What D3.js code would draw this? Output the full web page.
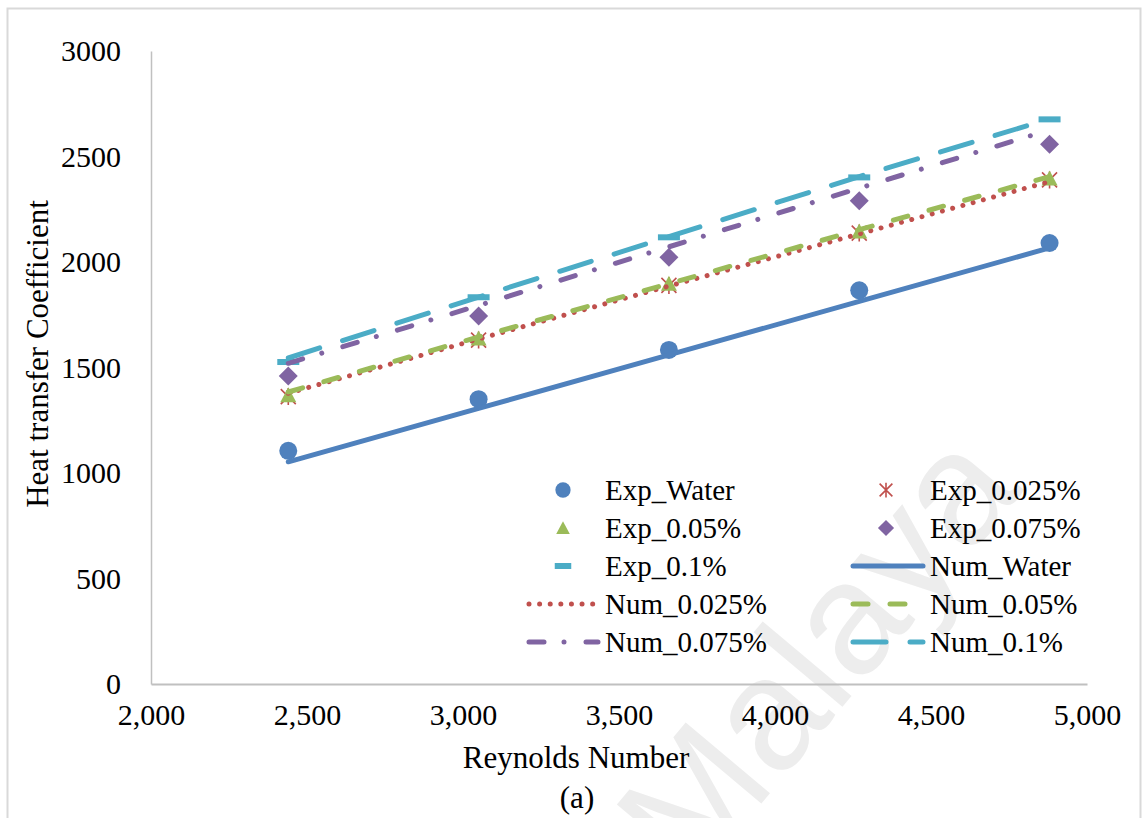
<!DOCTYPE html>
<html>
<head>
<meta charset="utf-8">
<script src="https://cdn.jsdelivr.net/npm/d3@7"></script>
<style>
  body { margin: 0; background: #ffffff; }
  svg { display: block; }
</style>
</head>
<body>
<svg id="chart" width="1146" height="818"></svg>
<script>
// Reynolds numbers at which heat transfer coefficient was measured / simulated
const reynolds = [2440, 3050, 3660, 4270, 4880];

// Experimental heat transfer coefficients (W/m²K)
const expWater = [1105, 1350, 1583, 1866, 2090];
const exp025 = [1362, 1630, 1889, 2137, 2389];
const exp05 = [1368, 1638, 1897, 2144, 2396];
const exp075 = [1460, 1744, 2022, 2290, 2558];
const exp1 = [1526, 1833, 2117, 2401, 2676];

// Numerical heat transfer coefficients (W/m²K)
const numWater = [1053, 1306, 1560, 1813, 2067];
const num025 = [1378, 1635, 1886, 2133, 2381];
const num05 = [1384, 1645, 1897, 2153, 2405];
const num075 = [1520, 1794, 2072, 2350, 2626];
const num1 = [1545, 1834, 2120, 2405, 2678];

const xTicks = [2000, 2500, 3000, 3500, 4000, 4500, 5000];
const yTicks = [0, 500, 1000, 1500, 2000, 2500, 3000];

const seriesNames = ["Exp_Water", "Exp_0.025%", "Exp_0.05%", "Exp_0.075%", "Exp_0.1%",
                     "Num_Water", "Num_0.025%", "Num_0.05%", "Num_0.075%", "Num_0.1%"];

const BLUE = "#4F81BD", RED = "#C0504D", GREEN = "#9BBB59", PURPLE = "#8064A2", CYAN = "#4BACC6";
const SERIF = "'Liberation Serif', 'Times New Roman', serif";

const svg = d3.select("#chart");

// outer frame
svg.append("rect")
  .attr("x", 7.5).attr("y", 8.5).attr("width", 1133).attr("height", 830)
  .attr("fill", "#ffffff").attr("stroke", "#d9d9d9").attr("stroke-width", 2);

// faint diagonal watermark behind the plot
svg.append("text")
  .attr("transform", "translate(816,652) rotate(-50)")
  .attr("text-anchor", "middle")
  .attr("dominant-baseline", "central")
  .attr("font-family", "'Liberation Sans', Arial, sans-serif")
  .attr("font-size", 160)
  .attr("fill", "#ededed")
  .text("Malaya");

const x = d3.scaleLinear().domain([2000, 5000]).range([151, 1087]);
const y = d3.scaleLinear().domain([0, 3000]).range([684, 51]);

// axes
const yAxis = svg.append("g").attr("transform", "translate(151,0)")
  .call(d3.axisLeft(y).tickValues(yTicks).tickSize(0).tickPadding(30).tickFormat(d3.format("d")));
yAxis.select(".domain").attr("stroke", "#c0c0c0").attr("stroke-width", 1.5);
yAxis.selectAll("text").attr("font-family", SERIF).attr("font-size", 30).attr("fill", "#000");

const xAxis = svg.append("g").attr("transform", "translate(0,684)")
  .call(d3.axisBottom(x).tickValues(xTicks).tickSize(0).tickPadding(20).tickFormat(d3.format(",")));
xAxis.select(".domain").attr("stroke", "#c0c0c0").attr("stroke-width", 2);
xAxis.selectAll("text").attr("font-family", SERIF).attr("font-size", 30).attr("fill", "#000");

// axis titles
svg.append("text")
  .attr("transform", "translate(37,354) rotate(-90)")
  .attr("text-anchor", "middle").attr("dominant-baseline", "central")
  .attr("font-family", SERIF).attr("font-size", 31).attr("fill", "#000")
  .text("Heat transfer Coefficient");
svg.append("text")
  .attr("x", 576).attr("y", 757)
  .attr("text-anchor", "middle").attr("dominant-baseline", "central")
  .attr("font-family", SERIF).attr("font-size", 31).attr("fill", "#000")
  .text("Reynolds Number");
svg.append("text")
  .attr("x", 577).attr("y", 797)
  .attr("text-anchor", "middle").attr("dominant-baseline", "central")
  .attr("font-family", SERIF).attr("font-size", 31).attr("fill", "#000")
  .text("(a)");

// marker shapes
function drawMarker(g, kind, color, scale) {
  const s = scale || 1;
  if (kind === "circle") {
    g.append("circle").attr("r", 9 * s).attr("fill", color);
  } else if (kind === "triangle") {
    g.append("path").attr("d", `M0,${-8 * s}L${8 * s},${7 * s}L${-8 * s},${7 * s}Z`).attr("fill", color);
  } else if (kind === "diamond") {
    g.append("path").attr("d", `M0,${-9.5 * s}L${9.5 * s},0L0,${9.5 * s}L${-9.5 * s},0Z`).attr("fill", color);
  } else if (kind === "dash") {
    g.append("rect").attr("x", -11 * s).attr("y", -3).attr("width", 22 * s).attr("height", 6).attr("fill", color);
  } else if (kind === "star") {
    const a = 7.5 * s;
    g.append("path")
      .attr("d", `M${-a},${-a}L${a},${a}M${a},${-a}L${-a},${a}M0,${-a - 1}L0,${a + 1}`)
      .attr("stroke", color).attr("stroke-width", 1.6).attr("fill", "none");
  }
}

const expSeries = [
  { name: seriesNames[0], values: expWater, kind: "circle", color: BLUE },
  { name: seriesNames[1], values: exp025, kind: "star", color: RED },
  { name: seriesNames[2], values: exp05, kind: "triangle", color: GREEN },
  { name: seriesNames[3], values: exp075, kind: "diamond", color: PURPLE },
  { name: seriesNames[4], values: exp1, kind: "dash", color: CYAN }
];

const numSeries = [
  { name: seriesNames[5], values: numWater, color: BLUE, dash: null },
  { name: seriesNames[6], values: num025, color: RED, dash: "0.01 10.6" },
  { name: seriesNames[7], values: num05, color: GREEN, dash: "15 22" },
  { name: seriesNames[8], values: num075, color: PURPLE, dash: "15 20 0.01 22" },
  { name: seriesNames[9], values: num1, color: CYAN, dash: "33 24" }
];

const plot = svg.append("g");

// experimental markers
expSeries.forEach(s => {
  plot.append("g").selectAll("g")
    .data(s.values.map((v, i) => [reynolds[i], v]))
    .join("g")
    .attr("transform", d => `translate(${x(d[0])},${y(d[1])})`)
    .each(function () { drawMarker(d3.select(this), s.kind, s.color, 1); });
});

// numerical lines
const line = d3.line().x(d => x(d[0])).y(d => y(d[1]));
numSeries.forEach(s => {
  plot.append("path")
    .datum(s.values.map((v, i) => [reynolds[i], v]))
    .attr("d", line)
    .attr("fill", "none")
    .attr("stroke", s.color)
    .attr("stroke-width", 5)
    .attr("stroke-linecap", "round")
    .attr("stroke-linejoin", "round")
    .attr("stroke-dasharray", s.dash);
});

// legend: two columns, row-major order
const legendRows = [490, 528, 566, 604, 642];
const legendCols = [
  { marker: 563, lineStart: 529, lineEnd: 598, text: 605 },
  { marker: 886, lineStart: 853, lineEnd: 923, text: 930 }
];
const legendItems = [...expSeries.map(s => ({ ...s, type: "exp" })), ...numSeries.map(s => ({ ...s, type: "num" }))];
const legend = svg.append("g");
legendItems.forEach((item, i) => {
  const col = legendCols[i % 2];
  const rowY = legendRows[Math.floor(i / 2)];
  const g = legend.append("g");
  if (item.type === "exp") {
    const m = g.append("g").attr("transform", `translate(${col.marker},${rowY})`);
    drawMarker(m, item.kind, item.color, item.kind === "dash" ? 0.75 : 0.85);
  } else {
    g.append("line")
      .attr("x1", col.lineStart).attr("x2", col.lineEnd)
      .attr("y1", rowY).attr("y2", rowY)
      .attr("stroke", item.color).attr("stroke-width", 5)
      .attr("stroke-linecap", "round")
      .attr("stroke-dasharray", item.dash);
  }
  g.append("text")
    .attr("x", col.text).attr("y", rowY)
    .attr("dominant-baseline", "central")
    .attr("font-family", SERIF).attr("font-size", 29).attr("fill", "#000")
    .text(item.name);
});
</script>
</body>
</html>
